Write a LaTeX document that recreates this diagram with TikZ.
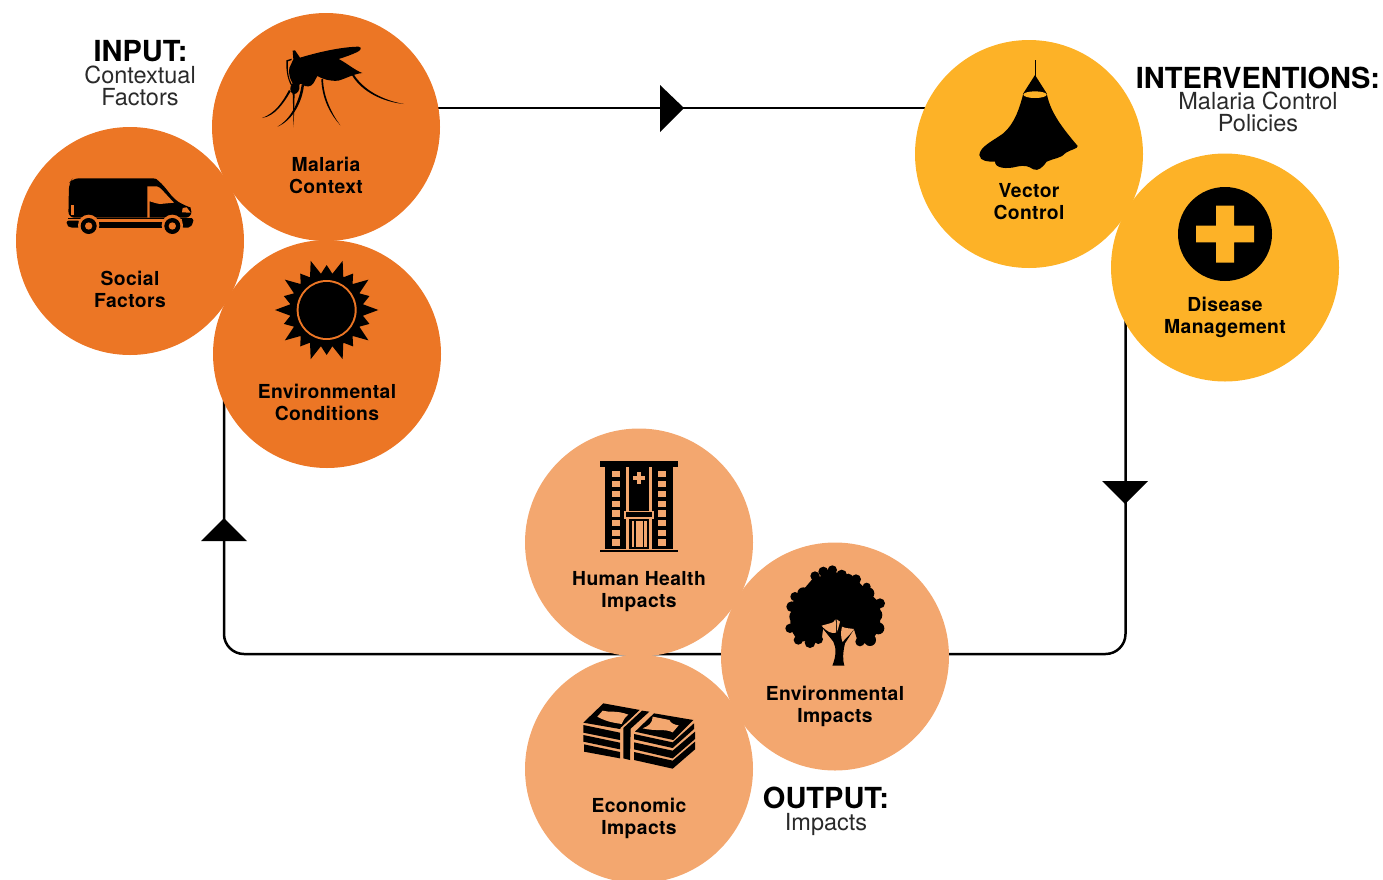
\documentclass[tikz,border=0pt]{standalone}
\usepackage{fontspec}
\setmainfont{TeX Gyre Heros}
\newfontfamily\labfont[LetterSpace=2]{TeX Gyre Heros}
\definecolor{cor}{HTML}{EC7625}
\definecolor{cye}{HTML}{FDB227}
\definecolor{cpe}{HTML}{F3A76F}
\definecolor{ctx}{HTML}{2A2A2A}
\tikzset{
  blob/.style={circle,inner sep=0pt,minimum size=228pt,draw=none},
  conn/.style={draw=black,line width=2.5pt},
  lab/.style={align=center,inner sep=0pt,font=\labfont\bfseries\fontsize{19.3}{22}\selectfont},
  headb/.style={inner sep=0pt,anchor=base,font=\bfseries\fontsize{29}{30}\selectfont},
  headl/.style={align=center,inner sep=0pt,text=ctx,font=\fontsize{23.5}{22}\selectfont},
  zoomA/.style={x=.33333pt,y=-.33333pt},
  zoomB/.style={shift={(520pt,-430pt)},x=.33333pt,y=-.33333pt},
  zoomC/.style={shift={(910pt,-30pt)},x=.33333pt,y=-.33333pt},
  zoomM/.style={shift={(260pt,-42pt)},x=.33333pt,y=-.33333pt},
  zoomT/.style={shift={(780pt,-560pt)},x=.33333pt,y=-.33333pt},
  zoomD/.style={shift={(580pt,-700pt)},x=.33333pt,y=-.33333pt},
}
\begin{document}
\begin{tikzpicture}[x=1pt,y=-1pt]
\useasboundingbox (0,0) rectangle (1383,879);
% circle positions
\coordinate (tc) at (0,108);
\coordinate (rc) at (1125.5,654);
\coordinate (lc) at (224,654);
\path (326,127) node[blob] (mal) {};
\path (130,241) node[blob] (soc) {};
\path (327,354) node[blob] (envc) {};
\path (1029,154) node[blob] (vec) {};
\path (1225,267.5) node[blob] (dis) {};
\path (639,542.5) node[blob] (hum) {};
\path (835,656.5) node[blob] (envi) {};
\path (639,769) node[blob] (eco) {};
% connectors
\draw[conn] (mal.center |- tc) -- (vec.center |- tc);
\draw[conn,rounded corners=20pt] (rc |- dis.center) -- (rc) -- (rc -| envi.center);
\draw[conn,rounded corners=20pt] (lc -| envi.center) -- (lc) -- (lc |- envc.center);
\fill (660,85) -- (684,108) -- (660,132) -- cycle;
\fill (1102,481) -- (1148,481) -- (1125,504) -- cycle;
\fill (201,541) -- (247,541) -- (224,518) -- cycle;
% circles
\fill[cor] (mal) circle (114);
\fill[cor] (soc) circle (114);
\fill[cor] (envc) circle (114);
\fill[cye] (vec) circle (114);
\fill[cye] (dis) circle (114);
\fill[cpe] (hum) circle (114);
\fill[cpe] (envi) circle (114);
\fill[cpe] (eco) circle (114);
% labels
\node[lab] (lmal) at (326,175) {Malaria\\Context};
\node[lab] (lsoc) at (130,289.5) {Social\\Factors};
\node[lab] (lenvc) at (327,402) {Environmental\\Conditions};
\node[lab] (lvec) at (1029,202) {Vector\\Control};
\node[lab] (ldis) at (1225,317) {Disease\\Management};
\node[lab] (lhum) at (639,592) {Human Health\\Impacts};
\node[lab] (lenvi) at (835,706) {Environmental\\Impacts};
\node[lab] (leco) at (639,818.5) {Economic\\Impacts};
% headings
\node[headb] (hin) at (140.5,61) {INPUT:};
\node[headl] (hins) at (140,86) {Contextual\\Factors};
\node[headb] (hint) at (1258,88) {INTERVENTIONS:};
\node[headl] (hints) at (1258,112) {Malaria Control\\Policies};
\node[headb] (hout) at (826,808) {OUTPUT:};
\node[headl] (houts) at (826,824.5) {Impacts};
% mosquito
\begin{scope}[zoomM]
\fill (98,26) -- (105,25) -- (120,47) .. controls (170,32) and (240,15) .. (295,14)
  .. controls (308,16) and (302,25) .. (292,30)
  .. controls (275,38) and (255,45) .. (236,51)
  .. controls (258,62) and (285,85) .. (307,93)
  .. controls (280,96) and (262,108) .. (235,116)
  .. controls (210,118) and (190,112) .. (172,102)
  -- (165,115) .. controls (160,128) and (150,137) .. (135,132)
  -- (122,125) -- (118,128)
  .. controls (122,145) and (110,158) .. (100,156)
  .. controls (88,152) and (88,132) .. (98,124)
  .. controls (90,112) and (85,95) .. (88,78)
  -- (100,52) -- cycle;
\fill (79,55) -- (95,50) -- (95,54) -- (84,58) .. controls (82,85) and (85,110) .. (96,128) -- (93,130) .. controls (82,110) and (78,85) .. (79,55) -- cycle;
\fill (280,95) .. controls (310,145) and (370,175) .. (432,186) .. controls (370,180) and (305,150) .. (275,98) -- cycle;
\fill (189,110) .. controls (190,165) and (215,215) .. (241,250) .. controls (210,215) and (186,170) .. (184,112) -- cycle;
\fill (132,128) .. controls (128,175) and (100,235) .. (52,254) .. controls (95,230) and (118,175) .. (125,128) -- cycle;
\fill (98,150) -- (104,150) -- (101,256) -- cycle;
\fill (92,148) .. controls (70,185) and (45,222) .. (6,228) .. controls (45,214) and (68,180) .. (87,144) -- cycle;
\end{scope}
% van
\begin{scope}[zoomA]
\fill[rounded corners=6pt] (205,653) -- (207,550) -- (218,535) -- (440,535) .. controls (470,535) and (475,542) .. (485,550)
  -- (525,600) -- (555,617) .. controls (570,622) and (574,632) .. (575,653) -- cycle;
\fill[cor] (442,559) -- (470,559) .. controls (480,560) and (490,575) .. (522,608) -- (480,612) .. controls (465,610) and (455,605) .. (449,604) -- (449,653) -- (442,653) -- cycle;
\fill[cor] (213,616) -- (223,616) -- (223,646) -- (213,646) -- cycle;
\fill[cor] (548,624) -- (560,622) -- (572,638) -- (546,637) -- cycle;
\fill[rounded corners=2pt] (200,662) -- (240,662) -- (240,683) -- (210,683) -- (200,675) -- cycle;
\fill (296,666) -- (492,666) -- (492,683) -- (296,683) -- cycle;
\fill[rounded corners=2pt] (545,655) -- (580,655) -- (580,668) -- (570,683) -- (545,683) -- cycle;
\fill (205,653) rectangle (575,655);
\fill[cor] (266,676) circle (32);
\fill[cor] (517,676) circle (32);
\fill (266,678) circle (24);
\fill[cor] (266,678) circle (11);
\fill (517,678) circle (24);
\fill[cor] (517,678) circle (11);
\end{scope}
% sun
\begin{scope}[zoomA,shift={(980,930)}]
\fill (155,0) foreach \i [evaluate=\i as \r using {mod(\i,2)==0?155:135}] in {0,...,19}
  { -- ({\i*18}:\r) -- ({\i*18+9}:110) } -- cycle;
\fill[cor] (0,0) circle (90);
\fill (0,0) circle (84);
\end{scope}
% net
\begin{scope}[zoomC]
\fill (373.5,90) rectangle (377,140);
\fill (375,135) -- (410,190)
 .. controls (420,240) and (445,280) .. (503,348)
 .. controls (505,355) and (480,360) .. (468,368)
 .. controls (455,385) and (430,385) .. (410,395)
 .. controls (400,410) and (385,425) .. (370,418)
 .. controls (355,408) and (345,405) .. (320,410)
 .. controls (290,418) and (255,415) .. (255,395)
 .. controls (235,395) and (210,395) .. (208,375)
 .. controls (210,350) and (245,335) .. (280,310)
 .. controls (315,280) and (330,230) .. (340,190) -- cycle;
\fill[cye] (375,194) ellipse (35 and 10);
\end{scope}
% cross
\begin{scope}[zoomC]
\fill (945,612) circle (141);
\fill[cye] (918,527) -- (972,527) -- (972,587) -- (1032,587) -- (1032,637) -- (972,637) -- (972,698) -- (918,698) -- (918,637) -- (858,637) -- (858,587) -- (918,587) -- cycle;
\end{scope}
% hospital
\begin{scope}[zoomB]
\fill (240,92) rectangle (475,110);
\fill (240,360) rectangle (473,366);
\fill (256,110) rectangle (318,356);
\fill (395,110) rectangle (458,356);
\fill (326,110) rectangle (388,356);
\foreach \y in {123,153,182,212,241,270,300,328} {
  \fill[cpe] (277,\y) rectangle (300,\y+19);
  \fill[cpe] (415,\y) rectangle (437,\y+19);
}
\fill[cpe] (351,127) rectangle (363,162);
\fill[cpe] (338,139) rectangle (376,150);
\fill[cpe] (313,243) rectangle (401,266);
\fill (317,247) rectangle (397,262);
\fill[cpe] (335,272) rectangle (381,352);
\fill (343,272) rectangle (347,352);
\fill (369,272) rectangle (373,352);
\end{scope}
% tree
\begin{scope}[zoomT]
\fill (105,48) -- (228,58) -- (300,130) -- (300,205) -- (270,250) -- (235,250) -- (222,208) -- (130,200) -- (125,240) -- (55,245) -- (30,205) -- (35,130) -- cycle;
\foreach \cx/\cy/\cr in {105/48/14,130/35/15,157/30/14,185/45/16,228/58/15,265/100/18,300/130/15,295/205/18,270/240/18,240/245/14,45/110/14,35/140/16,30/205/14,55/240/14,90/248/16,115/238/14,70/100/18,285/165/22,50/170/22,150/60/30,260/80/12,205/55/14} {
  \fill (\cx,\cy) circle (\cr);
}
\fill (157,317) .. controls (168,290) and (170,265) .. (160,245) -- (128,205) -- (170,190) -- (222,208) -- (195,250) .. controls (188,280) and (188,300) .. (193,317) -- cycle;
\fill[cpe] (125,197) -- (150,190) .. controls (160,188) and (165,182) .. (166,178) .. controls (170,190) and (168,205) .. (168,218) .. controls (155,222) and (140,215) .. (125,197) -- cycle;
\fill[cpe] (186,200) .. controls (195,205) and (210,205) .. (222,207) .. controls (210,225) and (195,235) .. (188,246) .. controls (182,235) and (182,215) .. (186,200) -- cycle;
\fill[cpe] (170,178) -- (180,185) -- (172,215) -- cycle;
\end{scope}
% money
\begin{scope}[zoomD]
\fill (10,68) -- (70,10) -- (180,30) -- (125,82) -- (120,87) -- cycle;
\fill (222,40) -- (340,60) -- (280,120) -- (165,95) -- cycle;
\fill (10,75) -- (120,98) -- (120,120) -- (10,98) -- cycle;
\fill (10,105) -- (120,128) -- (120,148) -- (10,125) -- cycle;
\fill (12,133) -- (120,156) -- (120,175) -- (12,155) -- cycle;
\fill (162,102) -- (278,127) -- (342,70) -- (342,87) -- (278,144) -- (162,118) -- cycle;
\fill (162,127) -- (278,152) -- (345,95) -- (345,117) -- (278,175) -- (162,148) -- cycle;
\fill (162,156) -- (278,182) -- (345,125) -- (345,148) -- (278,206) -- (162,180) -- cycle;
\fill[cpe] (180,30) -- (122,84) -- (122,180) -- (130,180) -- (128,86) -- (190,28) -- cycle;
\fill[cpe] (210,34) -- (150,88) -- (152,180) -- (160,180) -- (158,90) -- (222,36) -- cycle;
\fill (130,84) -- (186,32) -- (208,35) -- (152,86) -- (150,180) -- (130,175) -- cycle;
\fill[cpe] (52,50) -- (68,32) .. controls (85,38) and (110,30) .. (145,44) .. controls (130,55) and (130,65) .. (125,72) .. controls (105,68) and (85,68) .. (52,50) -- cycle;
\fill (132,62) .. controls (140,50) and (150,44) .. (162,44) -- (138,68) -- cycle;
\fill[cpe] (218,50) -- (268,60) .. controls (272,70) and (285,75) .. (296,76) -- (278,97) .. controls (255,85) and (230,95) .. (188,85) .. controls (205,78) and (218,70) .. (218,50) -- cycle;
\end{scope}
\end{tikzpicture}
\end{document}
